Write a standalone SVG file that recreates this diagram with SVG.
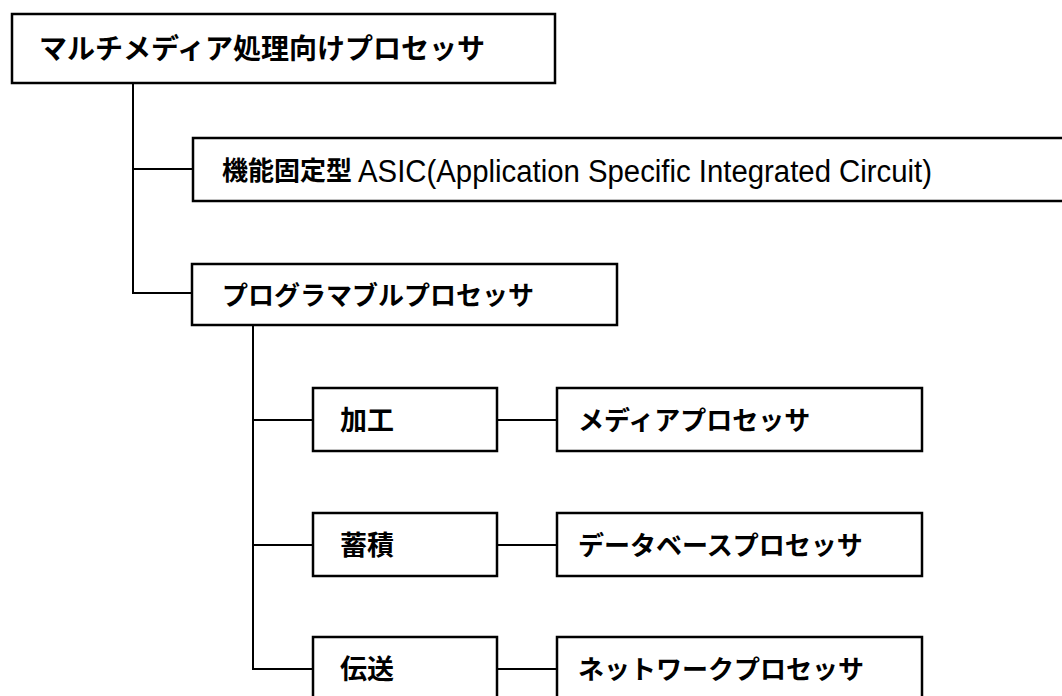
<svg xmlns="http://www.w3.org/2000/svg" width="1062" height="696" viewBox="0 0 1062 696">
<style>
.box{fill:#fff;stroke:#000;stroke-width:2.5}
.ln{fill:none;stroke:#000;stroke-width:2}
.t{font-family:"Noto Sans CJK JP","Noto Sans CJK SC",sans-serif;font-size:26px;font-weight:bold;fill:#000}
.a{font-family:"Liberation Sans",Arial,sans-serif;font-weight:normal;font-size:31px}
</style>
<rect width="1062" height="696" fill="#fff"/>
<g id="connectors">
<path class="ln" d="M133 83 V293 H192"/>
<path class="ln" d="M133 169 H193"/>
<path class="ln" d="M253 325 V669 H313"/>
<path class="ln" d="M253 420 H313"/>
<path class="ln" d="M253 545 H313"/>
<path class="ln" d="M497 420 H557"/>
<path class="ln" d="M497 545 H557"/>
<path class="ln" d="M497 669 H557"/>
</g>
<g id="root"><rect class="box" x="12" y="14" width="543" height="69"/><text class="t" x="39" y="59" style="font-size:28px">マルチメディア処理向けプロセッサ</text></g>
<g id="asic"><rect class="box" x="193" y="138" width="880" height="63"/><text class="t" x="222" y="180">機能固定型<tspan class="a" x="358" y="182" textLength="574" lengthAdjust="spacingAndGlyphs">ASIC(Application Specific Integrated Circuit)</tspan></text></g>
<g id="programmable"><rect class="box" x="192" y="264" width="425" height="61"/><text class="t" x="222" y="305">プログラマブルプロセッサ</text></g>
<g id="kakou"><rect class="box" x="313" y="388" width="184" height="63"/><text class="t" x="340" y="430" style="font-size:27px">加工</text></g>
<g id="media"><rect class="box" x="557" y="388" width="365" height="63"/><text class="t" x="578" y="430">メディアプロセッサ</text></g>
<g id="chikuseki"><rect class="box" x="313" y="513" width="184" height="63"/><text class="t" x="340" y="555" style="font-size:27px">蓄積</text></g>
<g id="database"><rect class="box" x="557" y="513" width="365" height="63"/><text class="t" x="578" y="555">データベースプロセッサ</text></g>
<g id="densou"><rect class="box" x="313" y="637" width="184" height="64"/><text class="t" x="340" y="679" style="font-size:27px">伝送</text></g>
<g id="network"><rect class="box" x="557" y="637" width="365" height="64"/><text class="t" x="578" y="679">ネットワークプロセッサ</text></g>
</svg>
